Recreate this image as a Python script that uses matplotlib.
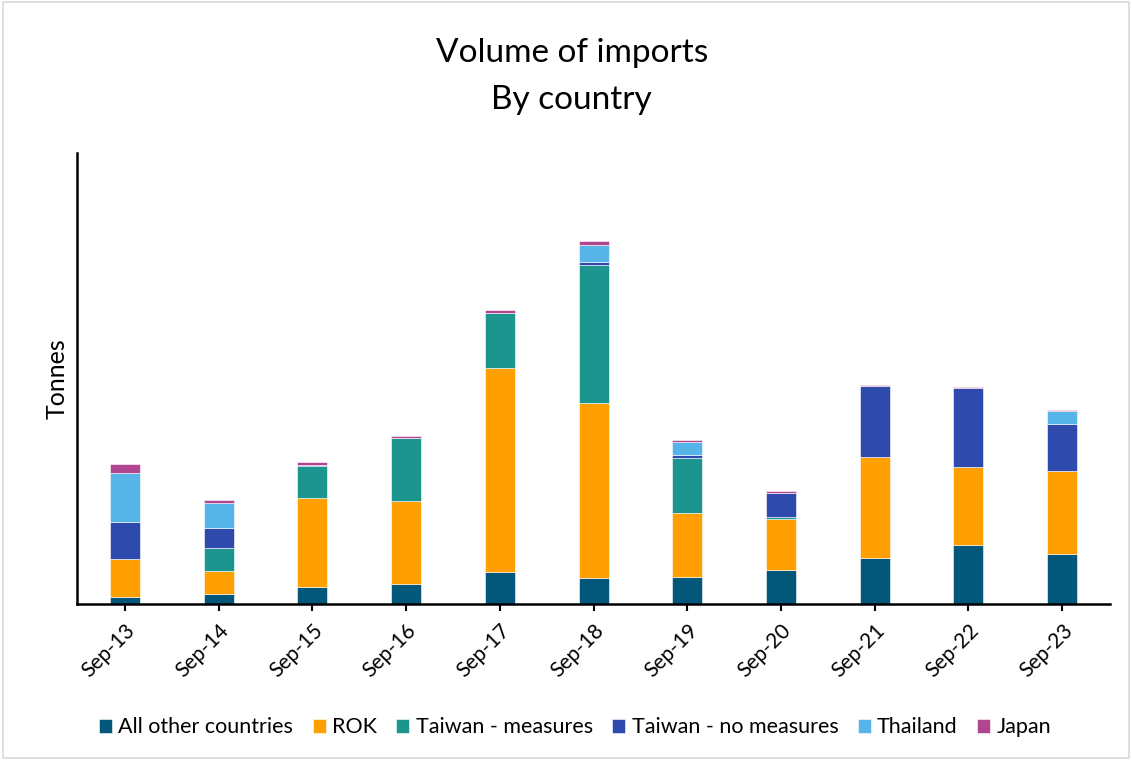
import numpy as np
import matplotlib.pyplot as plt
from matplotlib.patches import Rectangle

plt.rcParams["font.family"] = ["Lato", "DejaVu Sans"]

# categories
years = ["Sep-13", "Sep-14", "Sep-15", "Sep-16", "Sep-17", "Sep-18",
         "Sep-19", "Sep-20", "Sep-21", "Sep-22", "Sep-23"]

# tonnes (no axis scale shown)
other = [6.7, 10.3, 16.7, 19.7, 32.3, 25.7, 27.0, 33.7, 46.3, 59.0, 50.3]
rok = [38.0, 23.0, 89.6, 83.0, 204.0, 175.6, 64.0, 51.0, 101.0, 78.0, 83.0]
tw_meas = [0.0, 23.0, 32.0, 63.0, 55.0, 138.0, 55.3, 2.3, 0.0, 0.0, 0.0]
tw_nomeas = [37.3, 19.4, 1.0, 0.0, 0.0, 3.0, 2.4, 24.3, 71.0, 78.7, 46.4]
thailand = [48.7, 25.6, 0.0, 0.0, 0.0, 16.7, 13.0, 0.0, 0.0, 0.0, 13.3]
japan = [9.3, 2.7, 3.0, 2.3, 2.7, 4.0, 2.3, 1.7, 1.0, 1.3, 1.0]

series = [
    ("All other countries", other, "#02577a"),
    ("ROK", rok, "#ffa000"),
    ("Taiwan - measures", tw_meas, "#1b958e"),
    ("Taiwan - no measures", tw_nomeas, "#2f4aad"),
    ("Thailand", thailand, "#56b4e9"),
    ("Japan", japan, "#b0468f"),
]

fig = plt.figure(figsize=(11.32, 7.6), dpi=100)
ax = fig.add_axes([0.068, 0.2053, 0.9126, 0.5934])

x = np.arange(len(years))
bottom = np.zeros(len(years))
for name, vals, col in series:
    ax.bar(x, vals, 0.32, bottom=bottom, color=col, label=name,
           edgecolor="white", linewidth=0.4)
    bottom += np.array(vals)

ax.set_xlim(-0.51, len(years) - 0.49)
ax.set_ylim(0, 451)
ax.set_xticks(x)
ax.set_xticklabels(years, rotation=45, ha="right", rotation_mode="anchor",
                   fontsize=15)
ax.set_yticks([])
ax.tick_params(axis="x", length=5, width=1.5, pad=7)
for s in ["top", "right"]:
    ax.spines[s].set_visible(False)
ax.spines["left"].set_linewidth(1.8)
ax.spines["bottom"].set_linewidth(1.8)
ax.set_ylabel("Tonnes", fontsize=18, labelpad=6)

fig.text(0.505, 0.93, "Volume of imports", ha="center", va="center", fontsize=24)
fig.text(0.505, 0.869, "By country", ha="center", va="center", fontsize=24)

fig.legend(loc="center", bbox_to_anchor=(0.508, 0.043), ncol=6, frameon=False,
           fontsize=15.5, handlelength=0.6, handleheight=0.6, handletextpad=0.3,
           columnspacing=0.9)

fig.patches.append(Rectangle((0.003, 0.003), 0.994, 0.994, transform=fig.transFigure,
                             fill=False, edgecolor="#d9d9d9", linewidth=1.2))

fig.savefig("out.png", dpi=100)
